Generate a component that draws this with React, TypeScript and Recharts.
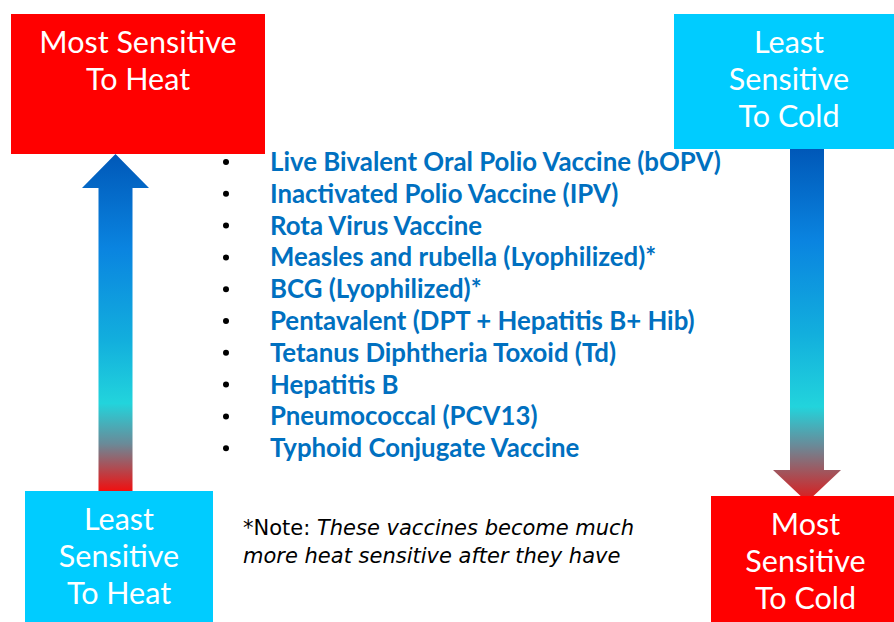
import React from "react";
import { ComposedChart, XAxis, YAxis, Scatter, ReferenceArea } from "recharts";

// --- content ---------------------------------------------------------------
const vaccines = [
  "Live Bivalent Oral Polio Vaccine (bOPV)",
  "Inactivated Polio Vaccine (IPV)",
  "Rota Virus Vaccine",
  "Measles and rubella (Lyophilized)*",
  "BCG (Lyophilized)*",
  "Pentavalent (DPT + Hepatitis B+ Hib)",
  "Tetanus Diphtheria Toxoid (Td)",
  "Hepatitis B",
  "Pneumococcal (PCV13)",
  "Typhoid Conjugate Vaccine",
];

const heatTopLabel = ["Most Sensitive", "To Heat"];
const heatBottomLabel = ["Least", "Sensitive", "To Heat"];
const coldTopLabel = ["Least", "Sensitive", "To Cold"];
const coldBottomLabel = ["Most", "Sensitive", "To Cold"];

const noteLead = "*Note: ";
const noteLines = ["These vaccines become much", "more heat sensitive after they have"];

// --- layout ----------------------------------------------------------------
const W = 894;
const H = 622;
const FIRST_ROW = 171; // baseline of first list row, px
const ROW_GAP = 31.8;
const LIST_X = 226; // bullet column
const TEXT_INDENT = 44;

const RED = "#ff0000";
const CYAN = "#00ccff";
const BLUE_TEXT = "#0070c0";
const FONT = "Lato, 'Open Sans', sans-serif";
const NOTE_FONT = "'DejaVu Sans', 'Open Sans', sans-serif";

const rows = vaccines.map((name, rank) => ({ name, rank }));

const heatStops = [
  { offset: "0%", color: "#0058b8" },
  { offset: "28%", color: "#0a84e0" },
  { offset: "55%", color: "#12aedd" },
  { offset: "74%", color: "#22d4dc" },
  { offset: "86%", color: "#6a8a98" },
  { offset: "100%", color: "#f01010" },
];

const coldStops = [
  { offset: "0%", color: "#0058b8" },
  { offset: "26%", color: "#0a84e0" },
  { offset: "52%", color: "#12aedd" },
  { offset: "73%", color: "#22d4dc" },
  { offset: "84%", color: "#6a8a98" },
  { offset: "100%", color: "#e01818" },
];

type BoxProps = {
  x?: number;
  y?: number;
  width?: number;
  height?: number;
  fill?: string;
};

const makeBox =
  (lines: string[], dx = 0) =>
  (props: BoxProps) => {
    const { x = 0, y = 0, width = 0, height = 0, fill } = props;
    const cx = x + width / 2 + dx;
    return (
      <g>
        <rect x={x} y={y} width={width} height={height} fill={fill} />
        {lines.map((line, i) => (
          <text
            key={line}
            x={cx}
            y={y + 38.5 + i * 37}
            textAnchor="middle"
            fill="#ffffff"
            fontFamily={FONT}
            fontSize={30.5}
          >
            {line}
          </text>
        ))}
      </g>
    );
  };

const makeArrow =
  (id: string, stops: { offset: string; color: string }[], pointsUp: boolean) =>
  (props: BoxProps) => {
    const { x = 0, y = 0, width = 0, height = 0 } = props;
    const cx = x + width / 2;
    const half = 17;
    const head = pointsUp ? 34 : 32;
    const d = pointsUp
      ? `M${cx},${y} L${x + width},${y + head} L${cx + half},${y + head} L${cx + half},${
          y + height
        } L${cx - half},${y + height} L${cx - half},${y + head} L${x},${y + head} Z`
      : `M${cx - half},${y} L${cx + half},${y} L${cx + half},${y + height - head} L${
          x + width
        },${y + height - head} L${cx},${y + height} L${x},${y + height - head} L${cx - half},${
          y + height - head
        } L${cx - half},${y} Z`;
    return (
      <g>
        <defs>
          <linearGradient id={id} x1="0" y1="0" x2="0" y2="1">
            {stops.map((s) => (
              <stop key={s.offset} offset={s.offset} stopColor={s.color} />
            ))}
          </linearGradient>
        </defs>
        <path d={d} fill={`url(#${id})`} />
      </g>
    );
  };

const ListRow = (props: { cx?: number; cy?: number; payload?: { name: string } }) => {
  const { cx = 0, cy = 0, payload } = props;
  return (
    <g>
      <circle cx={cx} cy={cy - 9} r={3} fill="#000000" />
      <text
        x={cx + TEXT_INDENT}
        y={cy}
        fill={BLUE_TEXT}
        fontFamily={FONT}
        fontWeight={700}
        fontSize={25.8}
      >
        {payload?.name}
      </text>
    </g>
  );
};

export default function App() {
  return (
    <div style={{ position: "absolute", left: 0, top: 0, width: W, height: H, background: "#fff" }}>
      <ComposedChart width={W} height={H} margin={{ top: 0, right: 0, bottom: 0, left: 0 }}>
        <XAxis
          type="number"
          dataKey={() => LIST_X}
          domain={[0, W]}
          allowDataOverflow
          hide
        />
        <YAxis type="number" domain={[0, H]} reversed allowDataOverflow hide />
        <YAxis
          yAxisId="rank"
          type="number"
          dataKey="rank"
          domain={[-FIRST_ROW / ROW_GAP, (H - FIRST_ROW) / ROW_GAP]}
          reversed
          allowDataOverflow
          hide
        />

        {/* left: heat scale */}
        <ReferenceArea x1={82} x2={149} y1={154} y2={491} shape={makeArrow("heatGrad", heatStops, true)} />
        <ReferenceArea x1={11} x2={265} y1={14} y2={154} fill={RED} shape={makeBox(heatTopLabel)} />
        <ReferenceArea x1={25} x2={213} y1={491} y2={622} fill={CYAN} shape={makeBox(heatBottomLabel)} />

        {/* right: cold scale */}
        <ReferenceArea x1={773} x2={841} y1={149} y2={502} shape={makeArrow("coldGrad", coldStops, false)} />
        <ReferenceArea x1={674} x2={894} y1={14} y2={149} fill={CYAN} shape={makeBox(coldTopLabel, 5)} />
        <ReferenceArea x1={711} x2={894} y1={496} y2={622} fill={RED} shape={makeBox(coldBottomLabel, 3)} />

        <Scatter yAxisId="rank" data={rows} shape={ListRow} isAnimationActive={false} />

        <text x={243} y={535} fontFamily={NOTE_FONT} fontSize={21} fill="#000000">
          <tspan>{noteLead}</tspan>
          <tspan fontStyle="italic">{noteLines[0]}</tspan>
          <tspan x={243} dy={28} fontStyle="italic">
            {noteLines[1]}
          </tspan>
        </text>
      </ComposedChart>
    </div>
  );
}
